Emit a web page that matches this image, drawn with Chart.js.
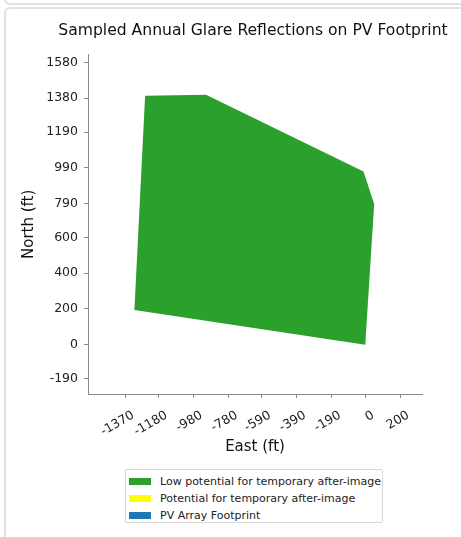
<!DOCTYPE html>
<html>
<head>
<meta charset="utf-8">
<script src="https://cdn.jsdelivr.net/npm/chart.js@4/dist/chart.umd.min.js"></script>
<style>
  body { margin: 0; background: #fff; width: 461px; height: 537px; overflow: hidden; position: relative; font-family: "DejaVu Sans", sans-serif; }
  .prevCard { position: absolute; left: 4px; top: -18px; width: 480px; height: 19px; border: 2px solid #e2e2e2; border-radius: 6px; }
  .card { position: absolute; left: 4px; top: 7px; width: 480px; height: 560px; border: 2px solid #e2e2e2; border-radius: 6px; }
  #chartBox { position: absolute; left: 0; top: 0; width: 500px; height: 460px; }
  #legend { position: absolute; left: 125px; top: 469px; width: 258px; height: 54px; border: 1px solid #d8d8d8; border-radius: 2px; box-sizing: border-box; padding-top: 3px; font-size: 11px; color: #222; }
  #legend div { height: 17px; line-height: 17px; white-space: nowrap; }
  #legend span { display: inline-block; width: 22px; height: 7px; margin: 0 9px 0 3px; vertical-align: middle; position: relative; top: -1px; }
</style>
</head>
<body>
<div class="prevCard"></div>
<div class="card"></div>
<div id="chartBox"><canvas id="glareChart" width="500" height="460"></canvas></div>
<div id="legend"></div>
<script>
const seriesNames = ["Low potential for temporary after-image", "Potential for temporary after-image", "PV Array Footprint"];
const seriesColors = ["#2ca02c", "#ffff00", "#1f77b4"];

// glare footprint outline (ft), closed
const lowPotentialEast = [-1257, -909, -10, 51, 0, -1318, -1257];
const lowPotentialNorth = [1393, 1399, 969, 788, 0, 194, 1393];

const xTickLabels = [-1370, -1180, -980, -780, -590, -390, -190, 0, 200];
const yTickLabels = [1580, 1380, 1190, 990, 790, 600, 400, 200, 0, -190];

const tickColor = "#222";
const axisColor = "#888";

function points(xs, ys) {
  return xs.map((x, i) => ({ x: x, y: ys[i] }));
}

const datasets = [
  {
    label: seriesNames[0],
    data: points(lowPotentialEast, lowPotentialNorth),
    showLine: true,
    fill: "shape",
    tension: 0,
    borderWidth: 0,
    borderColor: seriesColors[0],
    backgroundColor: seriesColors[0],
    pointRadius: 0,
  },
  { label: seriesNames[1], data: [], backgroundColor: seriesColors[1], borderColor: seriesColors[1], pointRadius: 0 },
  { label: seriesNames[2], data: [], backgroundColor: seriesColors[2], borderColor: seriesColors[2], pointRadius: 0 },
];

const tickFont = { family: "DejaVu Sans", size: 12.5 };

new Chart(document.getElementById("glareChart"), {
  type: "scatter",
  data: { datasets: datasets },
  options: {
    responsive: false,
    animation: false,
    layout: { padding: { left: 12, right: 6, top: 0, bottom: 0 } },
    plugins: {
      legend: { display: false },
      tooltip: { enabled: false },
      title: {
        display: true,
        text: "Sampled Annual Glare Reflections on PV Footprint",
        color: "#111",
        font: { family: "DejaVu Sans", size: 15.6, weight: "normal" },
        padding: { top: 22, bottom: 14 },
      },
    },
    scales: {
      x: {
        type: "linear",
        min: -1583,
        max: 324,
        afterFit: (s) => { s.height = 66; },
        afterBuildTicks: (s) => { s.ticks = xTickLabels.map((v) => ({ value: v })); },
        ticks: {
          color: tickColor,
          font: tickFont,
          minRotation: 30,
          maxRotation: 30,
          padding: 10,
          labelOffset: 8,
          callback: (v) => String(v),
        },
        grid: { drawOnChartArea: false, drawTicks: true, tickLength: 4, color: axisColor },
        border: { display: true, color: axisColor },
        title: {
          display: true,
          text: "East (ft)",
          color: "#111",
          font: { family: "DejaVu Sans", size: 15 },
          padding: { top: 0, bottom: 4 },
        },
      },
      y: {
        type: "linear",
        min: -276,
        max: 1623,
        afterFit: (s) => { s.width = 76; },
        afterBuildTicks: (s) => { s.ticks = yTickLabels.map((v) => ({ value: v })); },
        ticks: {
          color: tickColor,
          font: tickFont,
          padding: 6,
          callback: (v) => String(v),
        },
        grid: { drawOnChartArea: false, drawTicks: true, tickLength: 4, color: axisColor },
        border: { display: true, color: axisColor },
        title: {
          display: true,
          text: "North (ft)",
          color: "#111",
          font: { family: "DejaVu Sans", size: 15 },
          padding: { top: 8, bottom: 0 },
        },
      },
      // empty right-hand spacer so the title centres like the original figure
      spacer: {
        type: "linear",
        position: "right",
        afterFit: (s) => { s.width = 72; },
        ticks: { display: false },
        grid: { display: false },
        border: { display: false },
      },
    },
  },
});

const legendEl = document.getElementById("legend");
seriesNames.forEach((name, i) => {
  const row = document.createElement("div");
  const swatch = document.createElement("span");
  swatch.style.background = seriesColors[i];
  row.appendChild(swatch);
  row.appendChild(document.createTextNode(name));
  legendEl.appendChild(row);
});
</script>
</body>
</html>
